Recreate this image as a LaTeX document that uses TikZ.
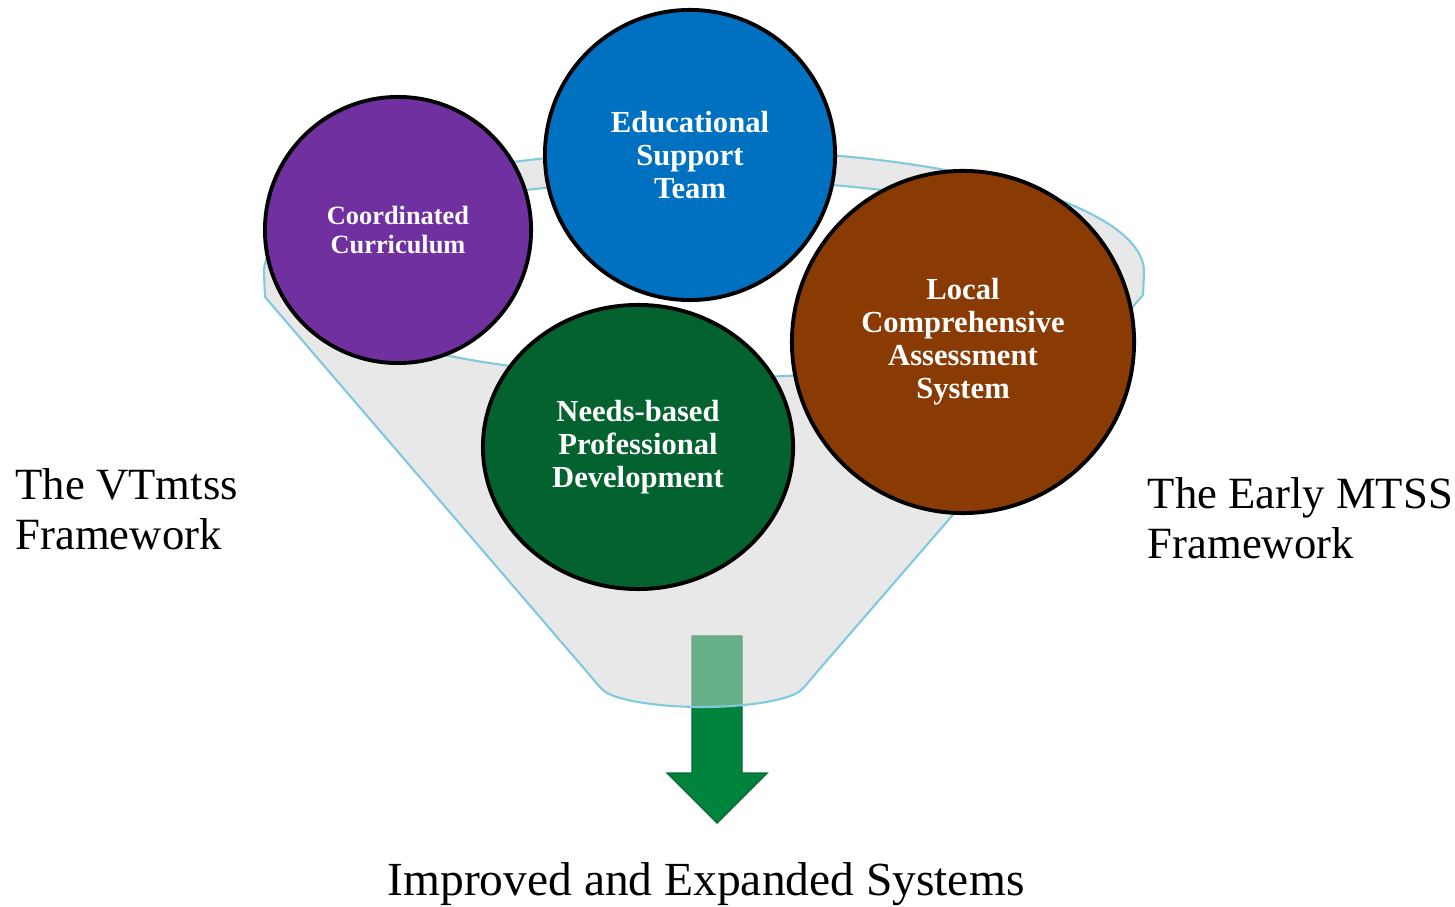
\documentclass[tikz,border=0pt]{standalone}
\usepackage{fontspec}
\setmainfont{Liberation Serif}
\usetikzlibrary{shapes.geometric}
\definecolor{ccpurple}{HTML}{7030A0}
\definecolor{estblue}{HTML}{0070C0}
\definecolor{lcasbrown}{HTML}{8A3A03}
\definecolor{nbpdgreen}{HTML}{03622E}
\definecolor{funnelgray}{HTML}{E8E8E8}
\definecolor{funnelblue}{HTML}{7FCADC}
\definecolor{arrowgreen}{HTML}{00833D}
\definecolor{arrowedge}{HTML}{0A6A32}
\newcommand{\funnelpath}{(264,634) arc[start angle=180,end angle=0,x radius=440,y radius=122] -- (1143,611) -- (823,241) .. controls (807,223) and (803,215) .. (793,211) arc[start angle=330,end angle=210,x radius=105,y radius=24] .. controls (601,215) and (597,223) .. (581,241) -- (265,609) -- cycle}
\begin{document}
\begin{tikzpicture}[x=0.01cm,y=0.01cm,
    disc/.style={draw,circle,line width=1.1pt,text=white,align=center,inner sep=0pt,font=\bfseries\fontsize{8.7}{9.4}\selectfont},
    sidetext/.style={align=left,inner sep=0pt,font=\fontsize{12.7}{14.2}\selectfont},
    rim/.style={draw=funnelblue,line width=0.6pt}]
    \useasboundingbox (0,0) rectangle (1455,906);
    % funnel
    \fill[funnelgray] \funnelpath;
    \filldraw[fill=white,rim] (704,627) ellipse[x radius=405,y radius=99];
    % arrow
    \filldraw[fill=arrowgreen,draw=arrowedge,line width=0.4pt] (692,270) -- (742,270) -- (742,133) -- (767,133) -- (717,83) -- (667,133) -- (692,133) -- cycle;
    \begin{scope}
        \clip \funnelpath;
        \fill[funnelgray,fill opacity=0.45] (660,150) rectangle (780,300);
    \end{scope}
    \path[rim] \funnelpath;
    % circles
    \node[disc,fill=ccpurple,minimum size=2.66cm,font=\bfseries\fontsize{7.5}{8.2}\selectfont](cc) at (398,676){Coordinated\\Curriculum};
    \node[disc,fill=estblue,minimum size=2.9cm](est) at (690,751){Educational\\Support\\Team};
    \node[disc,fill=lcasbrown,minimum size=3.42cm](lcas) at (963,564){Local\\Comprehensive\\Assessment\\System};
    \node[disc,ellipse,fill=nbpdgreen,minimum width=3.1cm,minimum height=2.84cm](nbpd) at (638,459){Needs-based\\Professional\\Development};
    % labels
    \node[sidetext,anchor=north west](vt) at (15,438){The VTmtss\\Framework};
    \node[sidetext,anchor=north west](early) at (1147,429){The Early MTSS\\Framework};
    \node[anchor=base,inner sep=0pt,font=\fontsize{13.5}{16}\selectfont](out) at (706,11){Improved and Expanded Systems};
\end{tikzpicture}
\end{document}
